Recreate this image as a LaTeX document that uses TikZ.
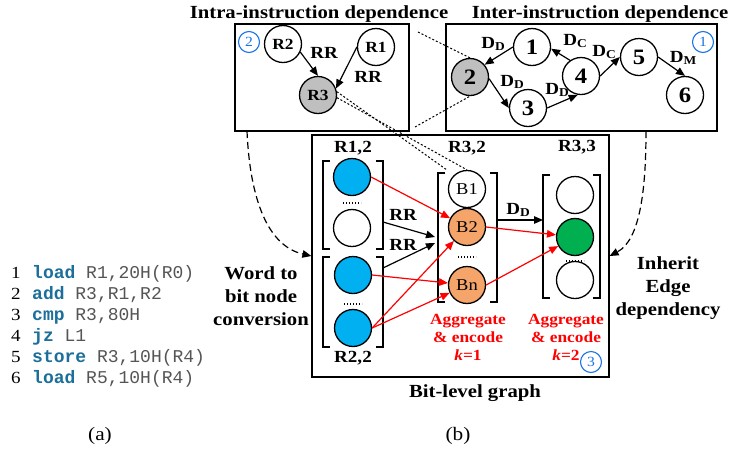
\documentclass[tikz,border=0pt]{standalone}
\usepackage{fontspec}
\setmainfont{Liberation Serif}[FakeStretch=1.12]
\newfontfamily\codefont{Liberation Mono}
\usetikzlibrary{arrows.meta}
\definecolor{myblue}{HTML}{00B0F0}
\definecolor{myorange}{HTML}{F5A46A}
\definecolor{mygreen}{HTML}{00B050}
\definecolor{numblue}{HTML}{1A73E8}
\definecolor{kw}{HTML}{1B6F9A}
\definecolor{codegray}{HTML}{555555}
\newcommand{\Dsub}[1]{D\raisebox{-0.12em}{\fontsize{12}{12}\selectfont #1}}
\tikzset{
  nd/.style={circle, draw, line width=1.3pt, minimum size=37pt, inner sep=0pt},
  tnd/.style={nd, font=\fontsize{15.5}{15.5}\selectfont\bfseries},
  numnd/.style={nd, font=\fontsize{22}{22}\selectfont\bfseries},
  bnd/.style={nd, font=\fontsize{16.5}{17}\selectfont},
  arr/.style={-{Triangle[length=9pt,width=7.5pt]}, line width=1.2pt},
  rarr/.style={arr, draw=red},
  frame/.style={draw, line width=1.2pt, inner sep=0pt},
  badge/.style={circle, draw=numblue, line width=1.1pt, text=numblue, minimum size=21pt, inner sep=0pt, font=\fontsize{14}{14}\selectfont},
  lbl/.style={font=\fontsize{17}{17}\selectfont\bfseries, inner sep=0pt},
  big/.style={font=\fontsize{18.5}{23}\selectfont\bfseries, inner sep=0pt, align=center},
  rlbl/.style={font=\fontsize{15.5}{18}\selectfont\bfseries, text=red, inner sep=0pt, align=center},
  brk/.style={line width=1.3pt},
  dotln/.style={dash pattern=on 1.2pt off 1.8pt, line width=1.2pt},
  zoomln/.style={dash pattern=on 2pt off 2pt, line width=1pt},
  bigdash/.style={dash pattern=on 7pt off 4pt, line width=1.2pt, -{Triangle[length=9pt,width=7.5pt]}},
  code/.style={anchor=base west, inner sep=0pt, font=\codefont\fontsize{18}{18}\selectfont, text=codegray},
  lnum/.style={anchor=base, inner sep=0pt, font=\fontsize{17}{17}\selectfont}
}
\begin{document}
\begin{tikzpicture}[x=1pt,y=-1pt]
\useasboundingbox (0,0) rectangle (750,448);

% titles
\node[big] (t1) at (319,14) {Intra-instruction dependence};
\node[big] (t2) at (600,14) {Inter-instruction dependence};

% boxes
\node[frame, minimum width=174pt, minimum height=107pt] (intra) at (322,77.5) {};
\node[frame, minimum width=271pt, minimum height=107pt] (inter) at (581.5,77.5) {};
\node[frame, minimum width=297pt, minimum height=242pt] (bit) at (460.5,256) {};

\node[badge] (bd2) at (249,42) {2};
\node[badge] (bd1) at (703,42) {1};
\node[badge] (bd3) at (591,362) {3};

% intra graph
\node[tnd] (R2) at (283,44) {R2};
\node[tnd] (R1) at (376,47) {R1};
\node[tnd, fill=black!25] (R3) at (318,95) {R3};
\draw[arr] (R2.-25) -- (R3.north);
\draw[arr] (R1.west) -- (R3.20);
\node[lbl] (rr1) at (324,53) {RR};
\node[lbl] (rr2) at (368,77) {RR};

% inter graph
\node[numnd] (n1) at (532,47) {1};
\node[numnd, fill=black!25] (n2) at (470,77) {2};
\node[numnd] (n3) at (528,108) {3};
\node[numnd] (n4) at (581,76) {4};
\node[numnd] (n5) at (639,57) {5};
\node[numnd] (n6) at (685,95) {6};
\draw[arr] (n1.west) -- (n2.40);
\draw[arr] (n2.-5) -- (n3.west);
\draw[arr] (n3.east) -- (n4.-100);
\draw[arr] (n4.125) -- (n1.-5);
\draw[arr] (n4.east) -- (n5.west);
\draw[arr] (n5.east) -- (n6.north);
\node[lbl] (l12) at (493,44) {\Dsub{D}};
\node[lbl] (l23) at (512,82) {\Dsub{D}};
\node[lbl] (l34) at (557,90) {\Dsub{D}};
\node[lbl] (l41) at (575,41) {\Dsub{C}};
\node[lbl] (l45) at (604,52) {\Dsub{C}};
\node[lbl] (l56) at (683,58) {\Dsub{M}};

% zoom lines
\coordinate (zu) at (418,32);
\coordinate (zl) at (415,127);
\draw[zoomln] (zu) -- (n2.north);
\draw[zoomln] (zl) -- (n2.south);

% bit-level graph: left column
\node[lbl] (h12) at (353,148) {R1,2};
\node[lbl] (h22) at (353,358) {R2,2};
\node[lbl] (h32) at (467,148) {R3,2};
\node[lbl] (h33) at (577,147) {R3,3};
\draw[brk] (330,161) -| (323,249) -- ++(7,0);
\draw[brk] (376,161) -| (383,249) -- ++(-7,0);
\draw[brk] (330,257) -| (323,347) -- ++(7,0);
\draw[brk] (376,257) -| (383,347) -- ++(-7,0);
\node[bnd, fill=myblue] (a1) at (352,177) {};
\node[bnd] (a2) at (352,228) {};
\node[bnd, fill=myblue] (a3) at (353,275) {};
\node[bnd, fill=myblue] (a4) at (353,328) {};
\draw[dotln] (343,203) -- (361,203);
\draw[dotln] (344,304) -- (362,304);

% middle column
\draw[brk] (445,173) -| (438,302) -- ++(7,0);
\draw[brk] (490,173) -| (497,302) -- ++(-7,0);
\node[bnd] (B1) at (467,189) {B1};
\node[bnd, fill=myorange] (B2) at (467,227) {B2};
\node[bnd, fill=myorange] (Bn) at (467,285) {Bn};
\draw[dotln] (458,257) -- (476,257);

% right column
\draw[brk] (550,175) -| (543,298) -- ++(7,0);
\draw[brk] (593,175) -| (600,298) -- ++(-7,0);
\node[bnd] (c1) at (575,195) {};
\node[bnd, fill=mygreen] (c2) at (575,237) {};
\node[bnd] (c3) at (575,280) {};
\draw[dotln] (566,261) -- (584,261);

% black edges
\coordinate (s1) at (383,222);
\coordinate (e1) at (435,237);
\coordinate (s2) at (383,268);
\coordinate (e2) at (435,243);
\draw[arr] (s1) -- (e1);
\draw[arr] (s2) -- (e2);
\node[lbl] (rr3) at (403,215) {RR};
\node[lbl] (rr4) at (403,245) {RR};
\coordinate (s3) at (497,220);
\coordinate (e3) at (543,220);
\draw[arr] (s3) -- (e3);
\node[lbl] (dd) at (518,210) {\Dsub{D}};

% red edges
\draw[rarr] (a1.east) -- (B2);
\draw[rarr] (a3.east) -- (Bn);
\draw[rarr] (a4.east) -- (B2);
\draw[rarr] (a4.east) -- (Bn);
\draw[rarr] (B2.east) -- (c2);
\draw[rarr] (Bn.east) -- (c2);

\node[rlbl] (ag1) at (468,337) {Aggregate\\\& encode\\\textit{k}=1};
\node[rlbl] (ag2) at (566,337) {Aggregate\\\& encode\\\textit{k}=2};

% dotted zoom lines to bit graph
\coordinate (bz) at (447,170);
\draw[zoomln] (R3.10) -- (bz);
\draw[zoomln] (R3.-8) -- (B1.north);

% dashed connectors
\coordinate (ld) at (247,131);
\coordinate (rd) at (646,131);
\draw[bigdash] (ld) .. controls (250,200) and (268,246) .. (bit.west);
\draw[bigdash] (rd) .. controls (646,190) and (640,240) .. (bit.east);

\node[big] (w2b) at (261,296) {Word to\\bit node\\conversion};
\node[big] (ied) at (668,288) {Inherit\\Edge\\dependency};

\node[big] (blg) at (475,393) {Bit-level graph};
\node[lnum, font=\fontsize{19}{19}\selectfont] (capa) at (100,440) {(a)};
\node[lnum, font=\fontsize{19}{19}\selectfont] (capb) at (458,440) {(b)};

% code
\node[lnum] (k1) at (16,278) {1};
\node[lnum] (k2) at (16,299) {2};
\node[lnum] (k3) at (16,320) {3};
\node[lnum] (k4) at (16,341) {4};
\node[lnum] (k5) at (16,362) {5};
\node[lnum] (k6) at (16,383) {6};
\node[code] (q1) at (32,278) {\textcolor{kw}{\textbf{load}} R1,20H(R0)};
\node[code] (q2) at (32,299) {\textcolor{kw}{\textbf{add}} R3,R1,R2};
\node[code] (q3) at (32,320) {\textcolor{kw}{\textbf{cmp}} R3,80H};
\node[code] (q4) at (32,341) {\textcolor{kw}{\textbf{jz}} L1};
\node[code] (q5) at (32,362) {\textcolor{kw}{\textbf{store}} R3,10H(R4)};
\node[code] (q6) at (32,383) {\textcolor{kw}{\textbf{load}} R5,10H(R4)};
\end{tikzpicture}
\end{document}
